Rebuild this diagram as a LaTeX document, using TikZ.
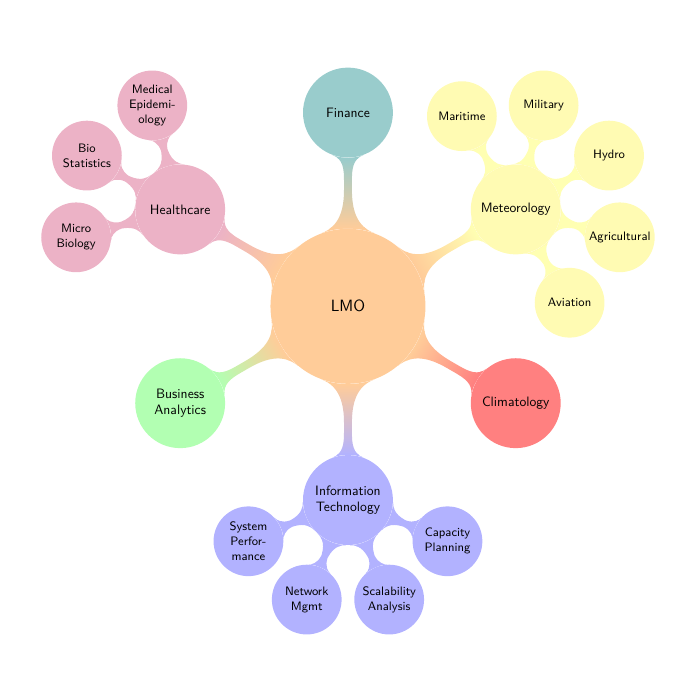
\documentclass[tikz,border=0pt]{standalone}
\usetikzlibrary{mindmap,backgrounds,calc}
\colorlet{cRoot}{orange!40}
\colorlet{cFin}{teal!40}
\colorlet{cMet}{yellow!30}
\colorlet{cCli}{red!50}
\colorlet{cIT}{blue!30}
\colorlet{cBA}{green!30}
\colorlet{cHC}{purple!30}
\begin{document}
\begin{tikzpicture}[
  cpt/.style={circle, inner sep=0pt, align=center, font=\sffamily, text=black},
  rootc/.style={cpt, minimum size=4cm, font=\sffamily\large},
  lone/.style={cpt, minimum size=2.32cm, font=\sffamily},
  ltwo/.style={cpt, minimum size=1.8cm, font=\sffamily\small},
  bar/.style 2 args={circle connection bar switch color=from (#1) to (#2)},
]
\useasboundingbox (-8.98,-10.16) rectangle (9.08,7.905);
% root
\node[rootc, fill=cRoot] (root) at (0,0) {LMO};
% level 1
\node[lone, fill=cFin] (fin) at (90:5) {Finance};
\node[lone, fill=cMet] (met) at (30:5) {Meteorology};
\node[lone, fill=cCli] (cli) at (-30:5) {Climatology};
\node[lone, fill=cIT] (it) at (-90:5) {Information\\Technology};
\node[lone, fill=cBA] (ba) at (-150:5) {Business\\Analytics};
\node[lone, fill=cHC] (hc) at (150:5) {Healthcare};
% level 2 meteorology
\node[ltwo, fill=cMet] (mar) at ($(met)+(120:2.78)$) {Maritime};
\node[ltwo, fill=cMet] (mil) at ($(met)+(75:2.78)$) {Military};
\node[ltwo, fill=cMet] (hyd) at ($(met)+(30:2.78)$) {Hydro};
\node[ltwo, fill=cMet] (agr) at ($(met)+(-15:2.78)$) {Agricultural};
\node[ltwo, fill=cMet] (avi) at ($(met)+(-60:2.78)$) {Aviation};
% level 2 healthcare
\node[ltwo, fill=cHC] (med) at ($(hc)+(105:2.78)$) {Medical\\Epidemi-\\ology};
\node[ltwo, fill=cHC] (bio) at ($(hc)+(150:2.78)$) {Bio\\Statistics};
\node[ltwo, fill=cHC] (mic) at ($(hc)+(195:2.78)$) {Micro\\Biology};
% level 2 IT
\node[ltwo, fill=cIT] (sys) at ($(it)+(202.5:2.78)$) {System\\Perfor-\\mance};
\node[ltwo, fill=cIT] (net) at ($(it)+(247.5:2.78)$) {Network\\Mgmt};
\node[ltwo, fill=cIT] (sca) at ($(it)+(292.5:2.78)$) {Scalability\\Analysis};
\node[ltwo, fill=cIT] (cap) at ($(it)+(337.5:2.78)$) {Capacity\\Planning};
% connections
\begin{scope}[on background layer]
  \path (root) to[bar={cRoot}{cFin}] (fin);
  \path (root) to[bar={cRoot}{cMet}] (met);
  \path (root) to[bar={cRoot}{cCli}] (cli);
  \path (root) to[bar={cRoot}{cIT}] (it);
  \path (root) to[bar={cRoot}{cBA}] (ba);
  \path (root) to[bar={cRoot}{cHC}] (hc);
  \foreach \c in {mar,mil,hyd,agr,avi} \path (met) to[bar={cMet}{cMet}] (\c);
  \foreach \c in {med,bio,mic} \path (hc) to[bar={cHC}{cHC}] (\c);
  \foreach \c in {sys,net,sca,cap} \path (it) to[bar={cIT}{cIT}] (\c);
\end{scope}
\end{tikzpicture}
\end{document}
